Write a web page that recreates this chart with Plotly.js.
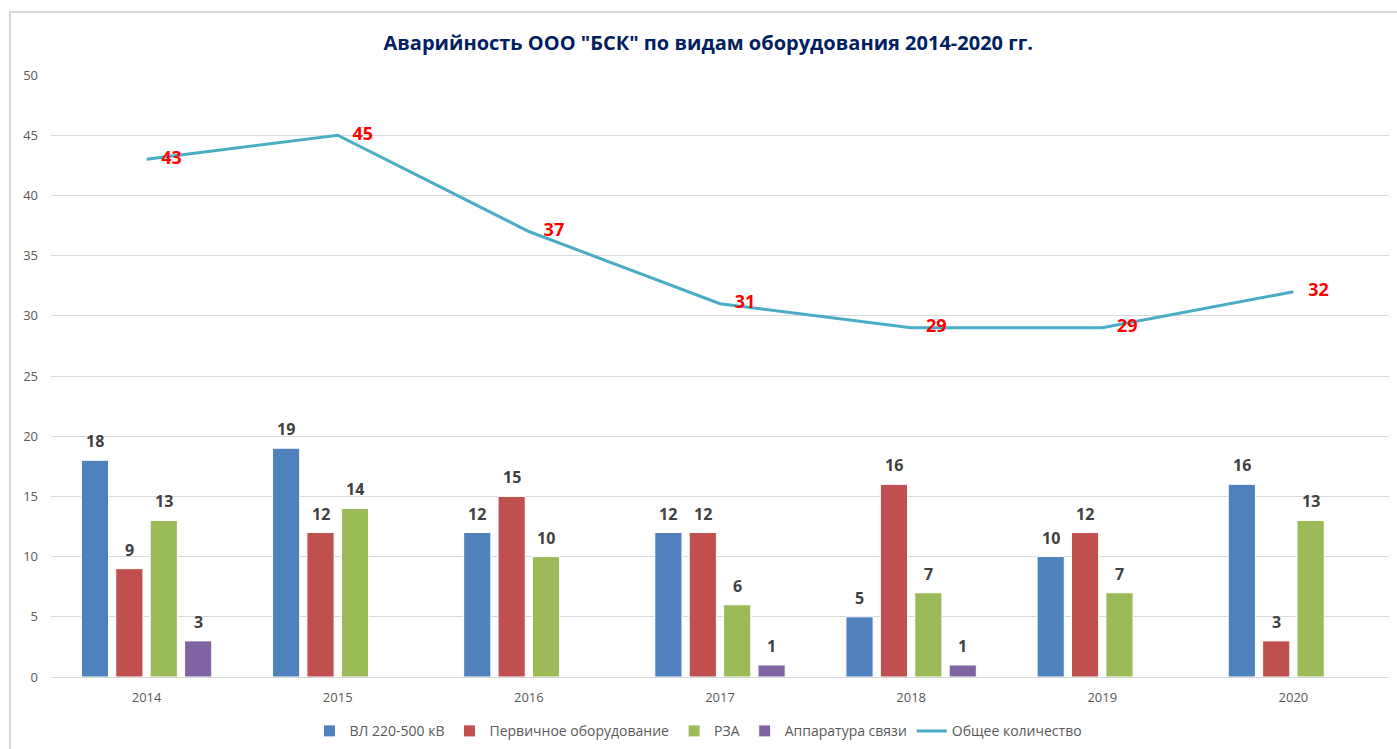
<!DOCTYPE html>
<html>
<head>
<meta charset="utf-8">
<script src="https://cdn.plot.ly/plotly-3.0.1.min.js"></script>
<style>
html,body{margin:0;padding:0;background:#fff;overflow:hidden;}
#frame{position:absolute;left:9px;top:11px;width:2000px;height:2000px;border-left:2px solid #d9d9d9;border-top:2px solid #d9d9d9;pointer-events:none;z-index:5;}
#chart{width:1397px;height:749px;}
</style>
</head>
<body>
<div id="frame"></div>
<div id="chart"></div>
<script>
const years = ['2014','2015','2016','2017','2018','2019','2020'];
const vl = [18,19,12,12,5,10,16];
const perv = [9,12,15,12,16,12,3];
const rza = [13,14,10,6,7,7,13];
const svyaz = [3,null,null,1,1,null,null];
const total = [43,45,37,31,29,29,32];

const seriesNames = ['ВЛ 220-500 кВ','Первичное оборудование','РЗА','Аппаратура связи'];
const seriesData = [vl, perv, rza, svyaz];
const seriesColors = ['#4F81BD','#C0504D','#9BBB59','#8064A2'];
const lineName = 'Общее количество';

const traces = seriesData.map((d,i)=>({
  type:'bar', name:seriesNames[i], x:years, y:d,
  marker:{color:seriesColors[i], line:{color:'#ffffff', width:1}},
  hoverinfo:'y'
}));
traces.push({
  type:'scatter', mode:'lines', name:lineName, x:years, y:total,
  line:{color:'#4BACC6', width:3}
});
traces.push({
  type:'scatter', mode:'markers+text', name:lineName, x:years, y:total, showlegend:false,
  marker:{size:22, opacity:0, color:'#4BACC6'},
  text:total.map(String), textposition:'middle right',
  textfont:{family:'Open Sans, sans-serif', size:18, color:'#FF0000', weight:'bold'},
  cliponaxis:false
});

const shifts = [-51.6,-17.2,17.2,51.6];
const annotations = [];
seriesData.forEach((d,i)=>{
  d.forEach((v,j)=>{
    if(v===null) return;
    annotations.push({x:j, y:v, xref:'x', yref:'y', text:String(v), showarrow:false,
      xshift:shifts[i], yanchor:'bottom', yshift:6,
      font:{family:'Open Sans, sans-serif', size:16, color:'#404040', weight:'bold'}});
  });
});

const layout = {
  width:1397, height:749,
  margin:{l:51, r:8, t:75, b:72},
  paper_bgcolor:'#ffffff', plot_bgcolor:'#ffffff',
  font:{family:'Open Sans, sans-serif', color:'#595959', size:13},
  title:{text:'Аварийность ООО "БСК" по видам оборудования 2014-2020 гг.', x:0.507, xref:'container', y:0.943, yanchor:'middle',
    font:{family:'Open Sans, sans-serif', size:20, color:'#002060', weight:'bold'}},
  barmode:'group', bargap:0.28, bargroupgap:0.21,
  xaxis:{type:'category', range:[-0.5,6.5], showgrid:false, showline:true, linecolor:'#d9d9d9', linewidth:1, ticks:'', tickfont:{size:13, color:'#595959'}, ticklabelstandoff:8, fixedrange:true, automargin:false},
  yaxis:{range:[0,50], dtick:5, showgrid:true, gridcolor:'#d9d9d9', gridwidth:1, zeroline:false, showline:false, ticks:'', tickfont:{size:13, color:'#595959'}, ticklabelstandoff:12, fixedrange:true, automargin:false},
  legend:{orientation:'h', x:0.5, xanchor:'center', xref:'container', yref:'container', y:0.045, yanchor:'top', font:{size:14, color:'#595959'}, itemwidth:30, traceorder:'normal'},
  annotations:annotations,
  showlegend:true
};

Plotly.newPlot('chart', traces, layout, {displayModeBar:false, staticPlot:true});
</script>
</body>
</html>
